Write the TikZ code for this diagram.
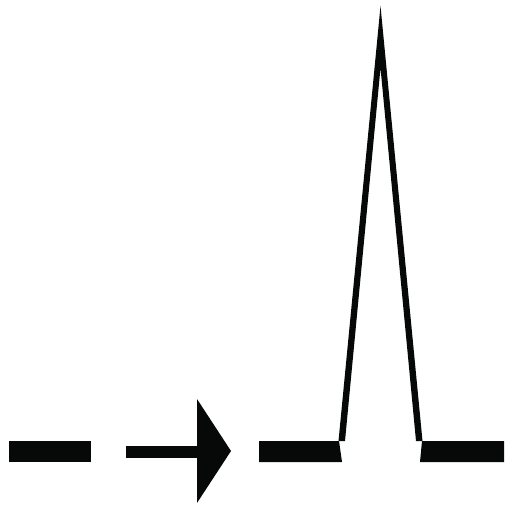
\documentclass[tikz,border=0pt]{standalone}
\usepackage{tikz}
\definecolor{inkColor}{HTML}{070909}

\begin{document}
\begin{tikzpicture}[x=0.03cm, y=-0.03cm]
    \useasboundingbox (0,0) rectangle (512,512);

    % before: flat level
    \fill[inkColor] (9,441) rectangle (91,462);

    % arrow
    \fill[inkColor] (126,446) rectangle (198,458);
    \fill[inkColor] (197,399) -- (231,451) -- (197,503) -- cycle;

    % after: level with a sharp peak
    \fill[inkColor] (259,441) -- (339,441) -- (342,462) -- (259,462) -- cycle;
    \fill[inkColor] (422,441) -- (504,441) -- (504,462) -- (420,462) -- cycle;
    \fill[inkColor] (338.5,441) -- (380.5,6) -- (422.5,441) -- (416,441)
        -- (380.5,68) -- (345,441) -- cycle;
\end{tikzpicture}
\end{document}
